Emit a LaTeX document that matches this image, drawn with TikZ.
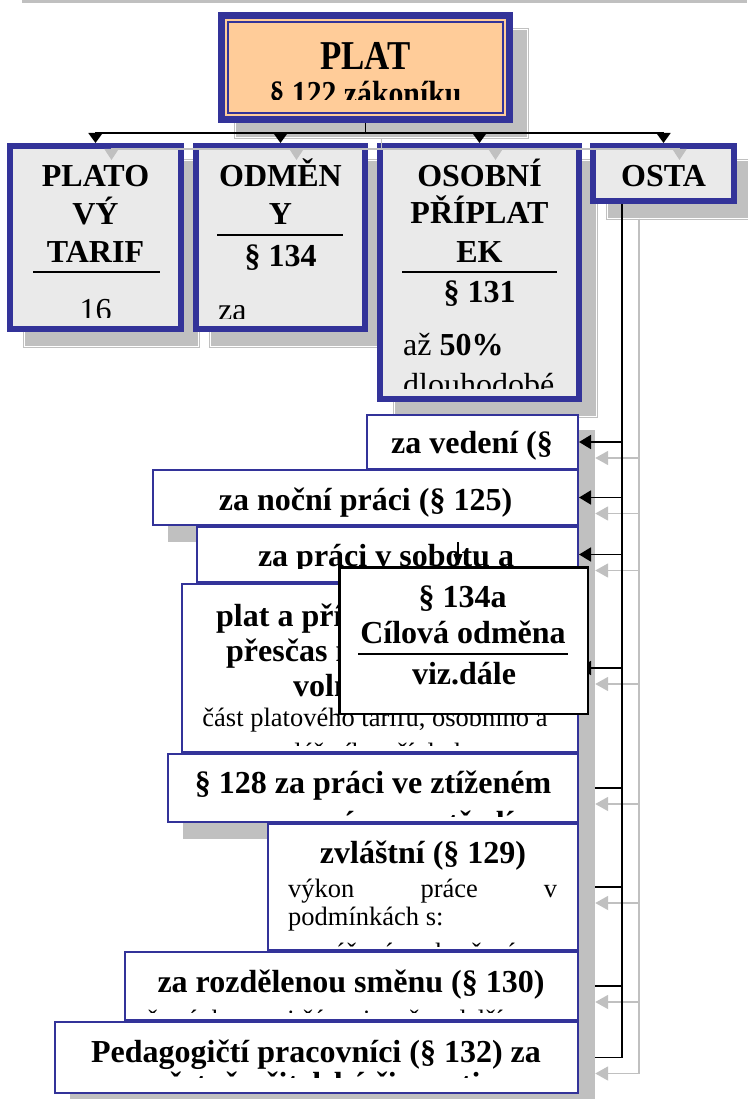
\documentclass[tikz,border=0pt]{standalone}
\usepackage{fontspec}
\setmainfont{Liberation Serif}
\newfontfamily\narrowfont[FakeStretch=0.85]{Liberation Serif}
\usetikzlibrary{arrows.meta}
\pgfdeclarelayer{shadelayer}
\pgfdeclarelayer{edgelayer}
\pgfdeclarelayer{coverlayer}
\pgfsetlayers{shadelayer,edgelayer,coverlayer,main}
\definecolor{platblue}{HTML}{333399}
\definecolor{platpeach}{HTML}{FFCC99}
\definecolor{boxgrey}{HTML}{EAEAEA}
\definecolor{shadowgrey}{HTML}{C0C0C0}
\tikzset{
  topbox/.style={draw=platblue, line width=6pt, fill=boxgrey, inner sep=0pt},
  platbox/.style={draw=platblue, line width=7pt, fill=platpeach, inner sep=0pt},
  lowbox/.style={draw=platblue, line width=2pt, fill=white, inner sep=0pt},
  cilbox/.style={draw=black, line width=2.5pt, fill=white, inner sep=0pt},
  topshadow/.style={draw=shadowgrey, double=white, double distance=0.8pt, line width=1.2pt, fill=shadowgrey, inner sep=0pt},
  lowshadow/.style={fill=shadowgrey, inner sep=0pt},
  headtext/.style={font=\fontsize{32}{37}\selectfont\bfseries, inner sep=0pt, anchor=base},
  bodytext/.style={font=\fontsize{32}{37}\selectfont, inner sep=0pt, anchor=base west},
  smalltext/.style={font=\fontsize{26.5}{30}\selectfont, inner sep=0pt, anchor=base},
  divline/.style={line width=1.6pt},
  conn/.style={line width=1.8pt, -{Triangle[length=#1,width=14pt]}},
  conn/.default=12pt,
  shconn/.style={draw=shadowgrey, line width=1.8pt, -{Triangle[length=#1,width=14pt]}},
  shconn/.default=13pt
}

\begin{document}
\begin{tikzpicture}[x=1pt,y=-1pt]
\useasboundingbox ( 0 , 0 ) rectangle ( 747 , 1099 );
\fill[shadowgrey] ( 22 , 0 ) rectangle ( 747 , 3 );
\begin{pgfonlayer}{shadelayer}
\node[topshadow, minimum width=291.8pt, minimum height=107.8pt] (plat-sh) at ( 381.5 , 83.5 ){};
\node[topshadow, minimum width=173.8pt, minimum height=185.8pt] (tarif-sh) at ( 111.5 , 253.5 ){};
\node[topshadow, minimum width=171.8pt, minimum height=185.8pt] (odmeny-sh) at ( 296.5 , 253.5 ){};
\node[topshadow, minimum width=201.8pt, minimum height=255.8pt] (osobni-sh) at ( 495.5 , 288.5 ){};
\node[topshadow, minimum width=143.8pt, minimum height=57.8pt] (osta-sh) at ( 679.5 , 189.5 ){};
\node[lowshadow, minimum width=213pt, minimum height=56pt] (vedeni-sh) at ( 488.5 , 458 ){};
\node[lowshadow, minimum width=427pt, minimum height=57pt] (nocni-sh) at ( 381.5 , 513.5 ){};
\node[lowshadow, minimum width=383pt, minimum height=57pt] (sobota-sh) at ( 403.5 , 570.5 ){};
\node[lowshadow, minimum width=398pt, minimum height=170pt] (prescas-sh) at ( 396 , 684 ){};
\end{pgfonlayer}
\begin{pgfonlayer}{coverlayer}
\node[lowshadow, minimum width=412pt, minimum height=70pt] (ztizene-sh) at ( 389 , 804 ){};
\node[lowshadow, minimum width=312pt, minimum height=128pt] (zvlastni-sh) at ( 439 , 903 ){};
\node[lowshadow, minimum width=455pt, minimum height=70pt] (smena-sh) at ( 367.5 , 1002 ){};
\node[lowshadow, minimum width=525pt, minimum height=73pt] (pedag-sh) at ( 332.5 , 1073.5 ){};
\end{pgfonlayer}

\node[platbox, minimum width=288pt, minimum height=104pt] (plat) at ( 365.5 , 67.5 ){};
\draw[platblue, line width=1.5pt] ([shift={(10pt,-10pt)}]plat.north west) rectangle ([shift={(-10pt,10pt)}]plat.south east);
\begin{scope}
\clip ( 229 , 23 ) rectangle ( 502 , 100 );
\node[headtext, font=\narrowfont\fontsize{41}{45}\selectfont\bfseries] (plat-t1) at ( 365.5 , 70 ){PLAT};
\node[headtext, font=\narrowfont\fontsize{35}{40}\selectfont\bfseries] (plat-t2) at ( 365.5 , 106 ){§ 122 zákoníku};
\end{scope}

\node[topbox, minimum width=171pt, minimum height=183pt] (tarif) at ( 95.5 , 237.5 ){};
\node[topbox, minimum width=169pt, minimum height=183pt] (odmeny) at ( 280.5 , 237.5 ){};
\node[topbox, minimum width=199pt, minimum height=253pt] (osobni) at ( 479.5 , 272.5 ){};
\node[topbox, minimum width=141pt, minimum height=55pt] (osta) at ( 663.5 , 173.5 ){};

\node[headtext] (tarif-t1) at ( 95.5 , 187 ){PLATO};
\node[headtext] (tarif-t2) at ( 95.5 , 225 ){VÝ};
\node[headtext] (tarif-t3) at ( 95.5 , 262 ){TARIF};
\draw[divline] ( 33 , 272 ) -- ( 160 , 272 );
\begin{scope}
\clip ( 16 , 152 ) rectangle ( 175 , 317 );
\node[bodytext, anchor=base] (tarif-t4) at ( 95.5 , 320 ){16};
\end{scope}

\node[headtext] (odmeny-t1) at ( 280.5 , 187 ){ODMĚN};
\node[headtext] (odmeny-t2) at ( 280.5 , 225 ){Y};
\draw[divline] ( 217 , 235 ) -- ( 343 , 235 );
\node[headtext] (odmeny-t3) at ( 280.5 , 266 ){§ 134};
\begin{scope}
\clip ( 202 , 152 ) rectangle ( 359 , 318 );
\node[bodytext] (odmeny-t4) at ( 218 , 320 ){za};
\end{scope}

\node[headtext] (osobni-t1) at ( 479.5 , 187 ){OSOBNÍ};
\node[headtext] (osobni-t2) at ( 479.5 , 224 ){PŘÍPLAT};
\node[headtext] (osobni-t3) at ( 479.5 , 262 ){EK};
\draw[divline] ( 402 , 272 ) -- ( 557 , 272 );
\node[headtext] (osobni-t4) at ( 479.5 , 302 ){§ 131};
\begin{scope}
\clip ( 386 , 152 ) rectangle ( 573 , 388 );
\node[bodytext] (osobni-t5) at ( 403 , 355 ){až \textbf{50\%}};
\node[bodytext] (osobni-t6) at ( 403 , 395 ){dlouhodobé};
\end{scope}

\node[headtext] (osta-t1) at ( 663.5 , 187 ){OSTA};

\coordinate (hub-sh) at ( 381.5 , 149 );
\draw[shadowgrey, line width=1.8pt] (plat-sh.south) -- (hub-sh);
\foreach \b in {tarif,odmeny,osobni,osta}
  \draw[shconn=11pt] (hub-sh) -| (\b-sh.north);
\coordinate (hub) at ( 365.5 , 133 );
\draw[line width=1.8pt] (plat.south) -- (hub);
\foreach \b in {tarif,odmeny,osobni,osta}
  \draw[conn=10pt] (hub) -| (\b.north);

\node[lowbox, minimum width=211pt, minimum height=54pt] (vedeni) at ( 472.5 , 442 ){};
\node[lowbox, minimum width=425pt, minimum height=55pt] (nocni) at ( 365.5 , 497.5 ){};
\node[lowbox, minimum width=381pt, minimum height=55pt] (sobota) at ( 387.5 , 554.5 ){};
\node[lowbox, minimum width=396pt, minimum height=168pt] (prescas) at ( 380 , 668 ){};
\node[lowbox, minimum width=410pt, minimum height=68pt] (ztizene) at ( 373 , 788 ){};
\node[lowbox, minimum width=310pt, minimum height=126pt] (zvlastni) at ( 423 , 887 ){};
\node[lowbox, minimum width=453pt, minimum height=68pt] (smena) at ( 351.5 , 986 ){};
\node[lowbox, minimum width=523pt, minimum height=71pt] (pedag) at ( 316.5 , 1057.5 ){};

\node[headtext] (vedeni-t1) at ( 472 , 453 ){za vedení (§};
\node[headtext] (nocni-t1) at ( 365.5 , 510 ){za noční práci (§ 125)};
\begin{scope}
\clip ( 198 , 528 ) rectangle ( 577 , 568 );
\node[headtext] (sobota-t1) at ( 386 , 566 ){za práci v sobotu a};
\end{scope}
\begin{scope}
\clip ( 183 , 585 ) rectangle ( 339 , 745 );
\node[headtext, anchor=base west] (prescas-t1) at ( 216 , 626 ){plat a pří};
\node[headtext, anchor=base west] (prescas-t2) at ( 226 , 661 ){přesčas n};
\node[headtext, anchor=base west] (prescas-t3) at ( 293 , 696 ){voln};
\end{scope}
\begin{scope}
\clip ( 183 , 585 ) rectangle ( 577 , 745 );
\node[smalltext] (prescas-t4) at ( 375 , 726 ){část platového tarifu, osobního a};
\node[smalltext] (prescas-t5) at ( 375 , 761 ){zvláštního příplatku};
\end{scope}
\begin{scope}
\clip ( 169 , 755 ) rectangle ( 577 , 816 );
\node[headtext] (ztizene-t1) at ( 373 , 793 ){§ 128 za práci ve ztíženém};
\node[headtext] (ztizene-t2) at ( 373 , 833 ){pracovním prostředí};
\end{scope}
\begin{scope}
\clip ( 269 , 825 ) rectangle ( 577 , 946 );
\node[headtext] (zvlastni-t1) at ( 423 , 863 ){zvláštní (§ 129)};
\node[smalltext, anchor=base west] (zvlastni-t2) at ( 288 , 897 ){\hbox to 269pt{výkon\hfill práce\hfill v}};
\node[smalltext, anchor=base west] (zvlastni-t3) at ( 288 , 925 ){podmínkách s:};
\node[smalltext, anchor=base west] (zvlastni-t4) at ( 288 , 961 ){– zvýšeným ohrožením};
\end{scope}
\begin{scope}
\clip ( 126 , 953 ) rectangle ( 577 , 1012 );
\node[headtext] (smena-t1) at ( 351 , 992 ){za rozdělenou směnu (§ 130)};
\node[smalltext] (smena-t2) at ( 319 , 1028 ){přestávka mezi částmi směny delší};
\end{scope}
\begin{scope}
\clip ( 56 , 1023 ) rectangle ( 577 , 1077 );
\node[headtext] (pedag-t1) at ( 316 , 1062 ){Pedagogičtí pracovníci (§ 132) za};
\node[headtext] (pedag-t2) at ( 316 , 1094 ){včetně učitelské činnosti};
\end{scope}

\begin{pgfonlayer}{edgelayer}
\coordinate (trunk) at ([xshift=32pt]osta.south west);
\coordinate (trunk-sh) at ([xshift=32pt]osta-sh.south west);
\foreach \b in {vedeni,nocni,sobota,prescas,ztizene,zvlastni,smena,pedag}{
  \draw[shconn] (trunk-sh) |- (\b-sh.east);
  \draw[conn] (trunk) |- (\b.east);
}
\end{pgfonlayer}

\node[cilbox, minimum width=248.5pt, minimum height=146.5pt] (cilova) at ( 463.5 , 640.5 ){};
\node[headtext] (cilova-t1) at ( 462.5 , 607 ){§ 134a};
\node[headtext] (cilova-t2) at ( 463 , 643 ){Cílová odměna};
\draw[divline] ( 358 , 654 ) -- ( 568 , 654 );
\node[headtext] (cilova-t3) at ( 464 , 684 ){viz.dále};
\coordinate (cilova-in) at ( 458 , 542 );
\draw[line width=1.2pt, -{Triangle[length=12pt,width=9pt]}] (cilova-in) -- (cilova-in |- cilova.north);
\end{tikzpicture}
\end{document}
